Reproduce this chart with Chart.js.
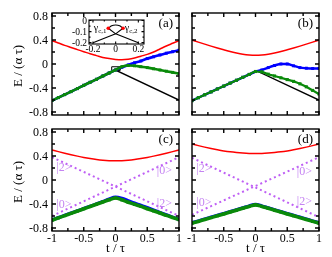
<!DOCTYPE html>
<html>
<head>
<meta charset="utf-8">
<script src="https://cdn.jsdelivr.net/npm/chart.js@4.4.0/dist/chart.umd.min.js"></script>
<style>
  html, body { margin: 0; padding: 0; background: #fff; }
  #wrap { position: relative; width: 332px; height: 257px; }
  canvas { position: absolute; left: 0; top: 0; }
</style>
</head>
<body>
<div id="wrap">
  <canvas id="pa" width="332" height="257"></canvas>
  <canvas id="pb" width="332" height="257"></canvas>
  <canvas id="pc" width="332" height="257"></canvas>
  <canvas id="pd" width="332" height="257"></canvas>
  <canvas id="inset" width="332" height="257"></canvas>
</div>
<script>
/* ═══════════════════════════════════════════════════════
   Level diagram, four panels + inset — Chart.js
   ═══════════════════════════════════════════════════════ */

const W = 332, H = 257;
const SERIF = "'Liberation Serif', 'Times New Roman', serif";
const RED = "#ff0000", BLUE = "#0000ff", GREEN = "#0a8a0a", BLACK = "#000000";
const PURPLE = "#bf5ff5", PURPLE_TXT = "#c584f2";

// ── Data ─────────────────────────────────────────────────

const T = [-1, -0.9, -0.8, -0.7, -0.6, -0.5, -0.4, -0.3, -0.2, -0.1, 0,
           0.1, 0.2, 0.3, 0.4, 0.5, 0.6, 0.7, 0.8, 0.9, 1];

// panel (a)
const redA   = [0.39, 0.35, 0.31, 0.275, 0.24, 0.205, 0.17, 0.14, 0.11, 0.09, 0.077,
                0.072, 0.08, 0.1, 0.13, 0.16, 0.2, 0.25, 0.3, 0.345, 0.39];
const blueA  = [-0.61, -0.56, -0.51, -0.46, -0.41, -0.355, -0.305, -0.255, -0.2, -0.15, -0.1,
                -0.055, -0.015, 0.02, 0.05, 0.09, 0.12, 0.15, 0.18, 0.205, 0.23];
const greenA = [-0.61, -0.56, -0.51, -0.46, -0.41, -0.355, -0.305, -0.255, -0.2, -0.15, -0.1,
                -0.045, -0.025, -0.03, -0.045, -0.06, -0.08, -0.1, -0.12, -0.14, -0.16];
const blackAT = [-1, 0, 1];
const blackA  = [-0.61, -0.1, -0.6];
const boxAT = [-0.06, 0.07, 0.07, -0.06, -0.06];
const boxA  = [-0.046, -0.046, -0.107, -0.107, -0.046];

// panel (b)
const redB   = [0.4, 0.365, 0.331, 0.298, 0.266, 0.236, 0.207, 0.183, 0.163, 0.15, 0.145,
                0.15, 0.163, 0.183, 0.207, 0.236, 0.266, 0.298, 0.331, 0.365, 0.4];
const blueB  = [-0.61, -0.562, -0.513, -0.465, -0.416, -0.368, -0.319, -0.271, -0.222, -0.174, -0.125,
                -0.1, -0.06, -0.025, 0.0, 0.0, -0.03, -0.06, -0.07, -0.075, -0.075];
const greenB = [-0.61, -0.562, -0.513, -0.465, -0.416, -0.368, -0.319, -0.271, -0.222, -0.174, -0.125,
                -0.13, -0.17, -0.2, -0.23, -0.26, -0.29, -0.33, -0.38, -0.44, -0.5];
const blackBT = [-1, 0.03, 1];
const blackB  = [-0.61, -0.12, -0.6];

// panel (c)
const redC   = [0.5, 0.473, 0.447, 0.422, 0.398, 0.376, 0.357, 0.341, 0.329, 0.322, 0.32,
                0.322, 0.329, 0.341, 0.357, 0.376, 0.398, 0.422, 0.447, 0.473, 0.5];
const blueC  = [-0.665, -0.627, -0.589, -0.551, -0.513, -0.475, -0.437, -0.399, -0.36, -0.315, -0.285,
                -0.305, -0.345, -0.385, -0.42, -0.46, -0.5, -0.54, -0.58, -0.62, -0.655];
const greenC = [-0.67, -0.632, -0.594, -0.556, -0.518, -0.48, -0.442, -0.404, -0.366, -0.33, -0.3,
                -0.33, -0.37, -0.405, -0.44, -0.478, -0.515, -0.55, -0.59, -0.625, -0.66];

// panel (d)
const redD   = [0.6, 0.573, 0.548, 0.525, 0.504, 0.485, 0.469, 0.457, 0.448, 0.442, 0.44,
                0.442, 0.448, 0.457, 0.469, 0.485, 0.504, 0.525, 0.548, 0.573, 0.6];
const blueD  = [-0.712, -0.682, -0.65, -0.619, -0.588, -0.557, -0.526, -0.495, -0.464, -0.432, -0.407,
                -0.432, -0.464, -0.495, -0.526, -0.557, -0.588, -0.619, -0.65, -0.682, -0.712];
const greenD = [-0.72, -0.69, -0.658, -0.627, -0.596, -0.565, -0.534, -0.503, -0.472, -0.44, -0.415,
                -0.44, -0.472, -0.503, -0.534, -0.565, -0.596, -0.627, -0.658, -0.69, -0.72];

// diabatic states |0> and |2> (dotted), panels (c) and (d)
const stateT = [-1, 1];
const state2C = [0.38, -0.6];
const state0C = [-0.6, 0.38];
const state2D = [0.37, -0.62];
const state0D = [-0.58, 0.38];

// inset of (a)
const insetLT = [-0.2, 0, 0.065];
const insetL  = [-0.2, -0.12, -0.07];
const insetRT = [0.2, 0, -0.065];
const insetR  = [-0.2, -0.12, -0.07];
const loopT = [-0.065, -0.035, 0, 0.035, 0.065];
const loopE = [-0.07, -0.047, -0.04, -0.047, -0.07];
const cuspT = [-0.065, 0.065];
const cuspE = [-0.07, -0.07];

// ticks
const xTicks = [-1, -0.75, -0.5, -0.25, 0, 0.25, 0.5, 0.75, 1];
const xLabelVals = [-1, -0.5, 0, 0.5, 1];
const xLabels = ["-1", "-0.5", "0", "0.5", "1"];
const yTicks = [-0.8, -0.6, -0.4, -0.2, 0, 0.2, 0.4, 0.6, 0.8];
const yLabelVals = [-0.8, -0.4, 0, 0.4, 0.8];
const yLabels = ["-0.8", "-0.4", "0", "0.4", "0.8"];

const inXTicks = [-0.2, -0.1, 0, 0.1, 0.2];
const inXLabelVals = [-0.2, 0, 0.2];
const inXLabels = ["-0.2", "0", "0.2"];
const inYTicks = [-0.2, -0.15, -0.1, -0.05, 0];
const inYLabelVals = [-0.2, -0.1, 0];
const inYLabels = ["-0.2", "-0.1", "0"];

// ── Frame / ticks / labels plugin ────────────────────────

const axesFrame = {
  id: "axesFrame",
  beforeDraw(chart, args, o) {
    if (!o.fillBg) return;
    const { ctx, chartArea: a } = chart;
    ctx.save();
    ctx.fillStyle = "#fff";
    ctx.fillRect(a.left, a.top, a.right - a.left, a.bottom - a.top);
    ctx.restore();
  },
  afterDatasetsDraw(chart, args, o) {
    const { ctx, chartArea: a, scales: { x, y } } = chart;
    ctx.save();
    ctx.strokeStyle = "#000";
    ctx.fillStyle = "#000";
    ctx.lineWidth = o.lw;

    ctx.beginPath();
    o.xt.forEach((v) => {
      const px = x.getPixelForValue(v);
      const len = o.xv.includes(v) ? o.major : o.minor;
      ctx.moveTo(px, a.bottom); ctx.lineTo(px, a.bottom - len);
      ctx.moveTo(px, a.top); ctx.lineTo(px, a.top + len);
    });
    o.yt.forEach((v) => {
      const py = y.getPixelForValue(v);
      const len = o.yv.includes(v) ? o.major : o.minor;
      ctx.moveTo(a.left, py); ctx.lineTo(a.left + len, py);
      ctx.moveTo(a.right, py); ctx.lineTo(a.right - len, py);
    });
    ctx.stroke();
    ctx.strokeRect(a.left, a.top, a.right - a.left, a.bottom - a.top);

    ctx.font = `${o.fs}px ${SERIF}`;
    if (o.showY) {
      ctx.textAlign = "right";
      ctx.textBaseline = "middle";
      o.yv.forEach((v, i) => ctx.fillText(o.yl[i], a.left - o.yPad, y.getPixelForValue(v) + 0.5));
    }
    if (o.showX) {
      ctx.textAlign = "center";
      ctx.textBaseline = "middle";
      o.xv.forEach((v, i) => ctx.fillText(o.xl[i], x.getPixelForValue(v), a.bottom + o.xPad));
    }

    ctx.font = `13px ${SERIF}`;
    if (o.yTitle) {
      ctx.save();
      ctx.translate(19, (a.top + a.bottom) / 2 + 2);
      ctx.rotate(-Math.PI / 2);
      ctx.textAlign = "center";
      ctx.textBaseline = "middle";
      ctx.fillText(o.yTitle, 0, 0);
      ctx.restore();
    }
    if (o.xTitle) {
      ctx.textAlign = "center";
      ctx.textBaseline = "middle";
      ctx.fillText(o.xTitle, (a.left + a.right) / 2, 249);
    }
    if (o.tag) {
      ctx.textAlign = "right";
      ctx.textBaseline = "middle";
      ctx.fillText(o.tag, a.right - 6, a.top + 11);
    }

    (o.notes || []).forEach((n) => {
      ctx.font = `${n.fs}px ${SERIF}`;
      ctx.fillStyle = n.color;
      ctx.textBaseline = "middle";
      let px = x.getPixelForValue(n.t);
      const py = y.getPixelForValue(n.e);
      const w1 = ctx.measureText(n.text).width;
      let w2 = 0;
      if (n.sub) {
        ctx.font = `${n.fs * 0.7}px ${SERIF}`;
        w2 = ctx.measureText(n.sub).width;
      }
      if (n.align === "right") px -= w1 + w2;
      ctx.textAlign = "left";
      ctx.font = `${n.fs}px ${SERIF}`;
      ctx.fillText(n.text, px, py);
      if (n.sub) {
        ctx.font = `${n.fs * 0.7}px ${SERIF}`;
        ctx.fillText(n.sub, px + w1, py + 2.5);
      }
    });
    ctx.restore();
  }
};

// ── Helpers ──────────────────────────────────────────────

const pts = (xs, ys) => xs.map((x, i) => ({ x, y: ys[i] }));

function curve(xs, ys, color, width, order, extra) {
  return Object.assign({
    data: pts(xs, ys),
    borderColor: color,
    backgroundColor: color,
    borderWidth: width,
    pointRadius: 0,
    fill: false,
    tension: 0,
    order,
  }, extra || {});
}

const smooth = { cubicInterpolationMode: "monotone" };
const marks = (r) => ({ cubicInterpolationMode: "monotone", pointStyle: "rect", pointRadius: r, pointBorderWidth: 0 });
const dotted = { borderDash: [2, 3], borderCapStyle: "butt" };

function frameOpts(extra) {
  return Object.assign({
    lw: 1.4, major: 4, minor: 3, fs: 12, xPad: 8, yPad: 4,
    xt: xTicks, xv: xLabelVals, xl: xLabels,
    yt: yTicks, yv: yLabelVals, yl: yLabels,
  }, extra);
}

function makePanel(id, area, range, datasets, fopts) {
  return new Chart(document.getElementById(id), {
    type: "line",
    data: { datasets },
    options: {
      responsive: false,
      animation: false,
      devicePixelRatio: 1,
      layout: { padding: { left: area[0], top: area[1], right: W - area[2], bottom: H - area[3] } },
      scales: {
        x: { type: "linear", min: range[0], max: range[1], display: false },
        y: { type: "linear", min: range[2], max: range[3], display: false },
      },
      plugins: { legend: { display: false }, tooltip: { enabled: false }, axesFrame: fopts },
    },
    plugins: [axesFrame],
  });
}

const RANGE = [-1, 1, -0.85, 0.85];

// ── Panels ───────────────────────────────────────────────

makePanel("pa", [52, 13, 179, 115], RANGE, [
  curve(T, redA, RED, 1.5, 1, smooth),
  curve(T, greenA, GREEN, 2.6, 2, marks(2.1)),
  curve(T, blueA, BLUE, 2.6, 3, marks(2.1)),
  curve(blackAT, blackA, BLACK, 1.4, 4),
  curve(boxAT, boxA, BLACK, 1, 5),
], frameOpts({ showY: true, yTitle: "E / (α τ)", tag: "(a)" }));

makePanel("pb", [192, 13, 319, 115], RANGE, [
  curve(T, redB, RED, 1.5, 1, smooth),
  curve(T, greenB, GREEN, 2.2, 2, marks(2.2)),
  curve(T, blueB, BLUE, 2.4, 3, marks(2.1)),
  curve(blackBT, blackB, BLACK, 1.4, 4),
], frameOpts({ tag: "(b)" }));

const notesC = (s2a, s0a, s0b, s2b) => [
  { text: "|2>", t: -0.93, e: s2a, fs: 12, color: PURPLE_TXT },
  { text: "|0>", t: 0.65, e: s0a, fs: 12, color: PURPLE_TXT },
  { text: "|0>", t: -0.93, e: s0b, fs: 12, color: PURPLE_TXT },
  { text: "|2>", t: 0.65, e: s2b, fs: 12, color: PURPLE_TXT },
];

makePanel("pc", [52, 129, 179, 231], RANGE, [
  curve(T, redC, RED, 1.5, 1, smooth),
  curve(T, greenC, GREEN, 3.6, 2, marks(2.2)),
  curve(T, blueC, BLUE, 3.2, 3, smooth),
  curve(stateT, state2C, PURPLE, 2, 4, dotted),
  curve(stateT, state0C, PURPLE, 2, 4, dotted),
], frameOpts({ showY: true, showX: true, yTitle: "E / (α τ)", xTitle: "t / τ", tag: "(c)",
               notes: notesC(0.21, 0.15, -0.41, -0.4) }));

makePanel("pd", [192, 129, 319, 231], RANGE, [
  curve(T, redD, RED, 1.5, 1, smooth),
  curve(T, greenD, GREEN, 3.6, 2, marks(2.2)),
  curve(T, blueD, BLUE, 3.2, 3, smooth),
  curve(stateT, state2D, PURPLE, 2, 4, dotted),
  curve(stateT, state0D, PURPLE, 2, 4, dotted),
], frameOpts({ showX: true, xTitle: "t / τ", tag: "(d)",
               notes: notesC(0.18, 0.14, -0.38, -0.36) }));

// ── Inset of (a) ─────────────────────────────────────────

makePanel("inset", [89, 20, 144, 44], [-0.235, 0.25, -0.212, 0.005], [
  curve(cuspT, cuspE, RED, 0, 1, { showLine: false, pointRadius: 1.8 }),
  curve(insetLT, insetL, BLACK, 1.1, 2),
  curve(insetRT, insetR, BLACK, 1.1, 2),
  curve(loopT, loopE, BLACK, 1.1, 2, smooth),
], {
  fillBg: true, lw: 1.1, major: 2.5, minor: 1.5, fs: 9.5, xPad: 5, yPad: 2,
  xt: inXTicks, xv: inXLabelVals, xl: inXLabels,
  yt: inYTicks, yv: inYLabelVals, yl: inYLabels,
  showX: true, showY: true,
  notes: [
    { text: "γ", sub: "c,1", t: -0.08, e: -0.075, fs: 10, color: "#000", align: "right" },
    { text: "γ", sub: "c,2", t: 0.08, e: -0.075, fs: 10, color: "#000" },
  ],
});
</script>
</body>
</html>
